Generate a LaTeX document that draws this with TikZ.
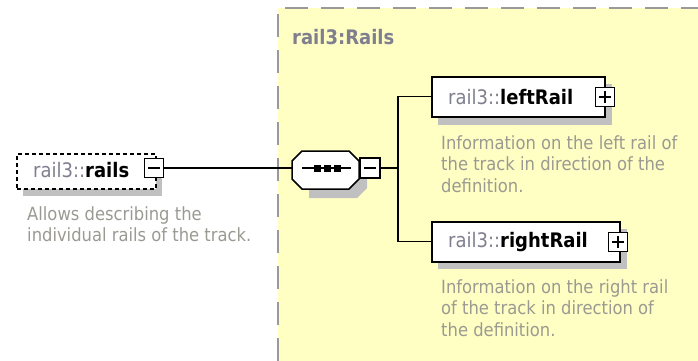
\documentclass[tikz,border=0pt]{standalone}
\usepackage{fontspec}
\setmainfont{DejaVu Sans Condensed}
\definecolor{bgyellow}{HTML}{FFFFC4}
\definecolor{shadowgray}{HTML}{C0C0C0}
\definecolor{prefixgray}{HTML}{7F7F8F}
\definecolor{descgray}{HTML}{9A9A92}
\definecolor{bordergray}{HTML}{999999}
\begin{document}
\begin{tikzpicture}[x=1pt,y=-1pt,
  elbox/.style={draw=black, line width=1.5pt, fill=white, inner sep=0pt},
  pmbox/.style={draw=black, line width=1.2pt, fill=white, minimum width=19, minimum height=19, inner sep=0pt},
  conn/.style={draw=black, line width=1.2pt},
  titletext/.style={anchor=west, inner sep=0pt, font=\fontsize{20}{23}\selectfont},
  desctext/.style={anchor=north west, inner sep=0pt, align=left, text=descgray, font=\fontsize{18.2}{21.5}\selectfont}
]
\useasboundingbox (0,0) rectangle (698,361);
% complex type area
\fill[bgyellow] (278,8) rectangle (698,361);
\draw[bordergray, line width=2pt, dash pattern=on 23 off 13] (278,361) -- (278,8) -- (698,8);
\node[anchor=west, inner sep=0pt, text=prefixgray, font=\bfseries\fontsize{20}{23}\selectfont] (ctitle) at (292,37) {rail3:Rails};

% rails element
\fill[shadowgray] (23,160) rectangle (162,196);
\node[elbox, dash pattern=on 4 off 3, minimum width=139, minimum height=35, anchor=north west] (rails) at (16,153) {};
\node[titletext] (railstext) at (33,170) {\textcolor{prefixgray}{rail3::}\textbf{rails}};
\node[pmbox] (railsminus) at (154,168) {};
\draw[line width=1.2pt] ([xshift=-6]railsminus.center) -- ([xshift=6]railsminus.center);
\node[desctext] (railsdesc) at (27,206) {Allows describing the\\individual rails of the track.};

% sequence compositor
\fill[shadowgray] (309,160) -- (357,160) -- (367,170) -- (367,188) -- (357,198) -- (309,198) -- cycle;
\draw[line width=1.5pt, fill=white] (302,151) -- (349,151) -- (359,161) -- (359,179) -- (349,189) -- (302,189) -- (292,179) -- (292,161) -- cycle;
\node[inner sep=0pt, minimum width=67, minimum height=38] (seq) at (325.5,170) {};
\draw[line width=1.2pt] (302,168) -- (351,168);
\foreach \xx in {317,327,337} \fill (\xx-3.5,164.5) rectangle (\xx+3.5,171.5);
\node[pmbox, minimum width=20, minimum height=20] (seqminus) at (370,168) {};
\draw[line width=1.2pt] ([xshift=-6]seqminus.center) -- ([xshift=6]seqminus.center);

% leftRail
\fill[shadowgray] (438,84) rectangle (612,125);
\node[elbox, minimum width=173, minimum height=40, anchor=north west] (left) at (431,76) {};
\node[titletext] (lefttext) at (448,97) {\textcolor{prefixgray}{rail3::}\textbf{leftRail}};
\node[pmbox] (leftplus) at (605,97) {};
\draw[line width=1.2pt] ([xshift=-6]leftplus.center) -- ([xshift=6]leftplus.center) ([yshift=-6]leftplus.center) -- ([yshift=6]leftplus.center);
\node[desctext] (leftdesc) at (441,135) {Information on the left rail of\\the track in direction of the\\definition.};

% rightRail
\fill[shadowgray] (438,229) rectangle (627,269);
\node[elbox, minimum width=188, minimum height=40, anchor=north west] (right) at (431,221) {};
\node[titletext] (righttext) at (448,242) {\textcolor{prefixgray}{rail3::}\textbf{rightRail}};
\node[pmbox] (rightplus) at (618,242) {};
\draw[line width=1.2pt] ([xshift=-6]rightplus.center) -- ([xshift=6]rightplus.center) ([yshift=-6]rightplus.center) -- ([yshift=6]rightplus.center);
\node[desctext] (rightdesc) at (441,279) {Information on the right rail\\of the track in direction of\\the definition.};

% connectors
\coordinate (fork) at (398,168);
\draw[conn] (railsminus.east) -- (seq.west |- railsminus.east);
\draw[conn] (seqminus.east) -- (fork);
\draw[conn] (left.west) -| (fork) |- (right.west);
\end{tikzpicture}
\end{document}
